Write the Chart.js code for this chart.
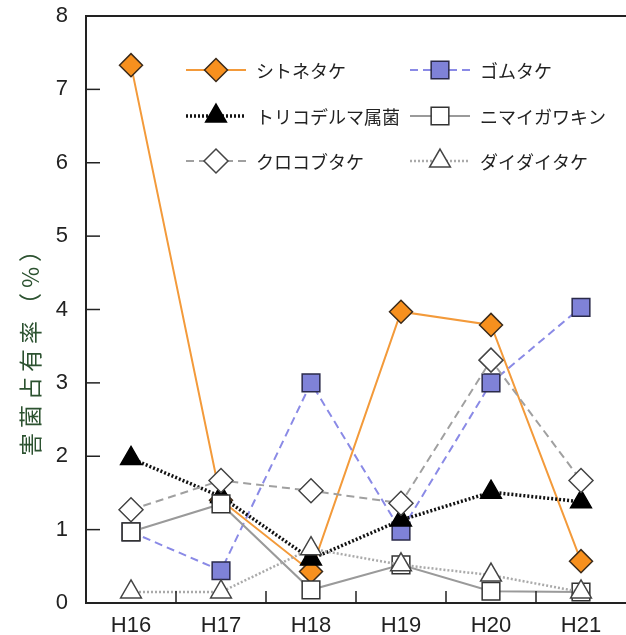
<!DOCTYPE html>
<html>
<head>
<meta charset="utf-8">
<script src="https://cdn.jsdelivr.net/npm/chart.js@4"></script>
<style>
  html, body { margin: 0; padding: 0; background: #fff; overflow: hidden; }
  #wrap { width: 640px; height: 635px; }
</style>
</head>
<body>
<div id="wrap"><canvas id="c" width="640" height="635"></canvas></div>
<script>
// categories (fiscal years)
const years = ["H16", "H17", "H18", "H19", "H20", "H21"];

// series values (%)
const shitonetake = [7.33, 1.4, 0.43, 3.97, 3.79, 0.57];
const gomutake = [0.97, 0.44, 3.0, 0.98, 3.0, 4.03];
const trichoderma = [1.97, 1.45, 0.6, 1.13, 1.51, 1.38];
const nimaigawakin = [0.97, 1.35, 0.18, 0.52, 0.16, 0.15];
const kurokobutake = [1.27, 1.67, 1.53, 1.36, 3.31, 1.67];
const daidaitake = [0.15, 0.15, 0.74, 0.52, 0.38, 0.15];

const yTicks = [0, 1, 2, 3, 4, 5, 6, 7, 8];
const yTitle = "害菌占有率（%）";

const jp = '"Noto Sans CJK JP", "Noto Sans", sans-serif';

const datasets = [
    { label: "シトネタケ", data: shitonetake, borderColor: "#f39a3a", borderWidth: 2, borderDash: [],
      pointStyle: "rectRot", pointRadius: 11.5, pointBackgroundColor: "#f7901e", pointBorderColor: "#3a2a1a", order: 5 },
    { label: "ゴムタケ", data: gomutake, borderColor: "#8a8ae6", borderWidth: 2, borderDash: [8, 5],
      pointStyle: "rect", pointRadius: 12.5, pointBackgroundColor: "#7f82d8", pointBorderColor: "#2a2a4a", order: 4 },
    { label: "トリコデルマ属菌", data: trichoderma, borderColor: "#111", borderWidth: 3.5, borderDash: [2, 2],
      pointStyle: "triangle", pointRadius: 12, pointBackgroundColor: "#000", pointBorderColor: "#000", order: 3 },
    { label: "ニマイガワキン", data: nimaigawakin, borderColor: "#9a9a9a", borderWidth: 2, borderDash: [],
      pointStyle: "rect", pointRadius: 12.5, pointBackgroundColor: "#fff", pointBorderColor: "#333", order: 1 },
    { label: "クロコブタケ", data: kurokobutake, borderColor: "#a0a0a0", borderWidth: 2, borderDash: [8, 5],
      pointStyle: "rectRot", pointRadius: 12, pointBackgroundColor: "#fff", pointBorderColor: "#444", order: 2 },
    { label: "ダイダイタケ", data: daidaitake, borderColor: "#aaaaaa", borderWidth: 2.5, borderDash: [2, 2],
      pointStyle: "triangle", pointRadius: 12, pointBackgroundColor: "#fff", pointBorderColor: "#444", order: 0 }
];
datasets.forEach(d => {
    d.pointBorderWidth = 1.5;
    d.fill = false;
    d.tension = 0;
    d.pointHoverRadius = d.pointRadius;
});

// legend in two columns inside the plot, plus inward ticks, top frame, rotated title
const decorPlugin = {
    id: "decor",
    afterDraw(chart) {
        const ctx = chart.ctx;
        const area = chart.chartArea;
        const x = chart.scales.x;
        const y = chart.scales.y;
        ctx.save();

        // top frame line
        ctx.strokeStyle = "#222";
        ctx.lineWidth = 2;
        ctx.beginPath();
        ctx.moveTo(area.left - 1, area.top);
        ctx.lineTo(area.right + 20, area.top);
        ctx.stroke();

        // y ticks pointing inward
        ctx.lineWidth = 1.5;
        yTicks.slice(1, -1).forEach(v => {
            const py = y.getPixelForValue(v);
            ctx.beginPath();
            ctx.moveTo(area.left, py);
            ctx.lineTo(area.left + 14, py);
            ctx.stroke();
        });
        // x ticks between categories, pointing inward
        for (let i = 0; i < years.length - 1; i++) {
            const px = (x.getPixelForValue(i) + x.getPixelForValue(i + 1)) / 2;
            ctx.beginPath();
            ctx.moveTo(px, area.bottom);
            ctx.lineTo(px, area.bottom - 12);
            ctx.stroke();
        }

        // y title
        ctx.fillStyle = "#2c5230";
        ctx.font = "23px " + jp;
        ctx.letterSpacing = "5px";
        ctx.textAlign = "center";
        ctx.textBaseline = "middle";
        ctx.translate(30, 345);
        ctx.rotate(-Math.PI / 2);
        ctx.fillText(yTitle, 0, 0);
        ctx.restore();

        // legend
        ctx.save();
        const cols = [area.left + 100, area.left + 324];
        const rows = [area.top + 54, area.top + 100, area.top + 145];
        datasets.forEach((d, i) => {
            const cx = cols[i % 2];
            const cy = rows[Math.floor(i / 2)];
            ctx.strokeStyle = d.borderColor;
            ctx.lineWidth = d.borderWidth;
            ctx.setLineDash(d.borderDash);
            ctx.beginPath();
            ctx.moveTo(cx, cy);
            ctx.lineTo(cx + 60, cy);
            ctx.stroke();
            ctx.setLineDash([]);
            ctx.fillStyle = d.pointBackgroundColor;
            ctx.strokeStyle = d.pointBorderColor;
            ctx.lineWidth = d.pointBorderWidth;
            Chart.helpers.drawPoint(ctx, { pointStyle: d.pointStyle, radius: d.pointRadius, rotation: 0, borderWidth: d.pointBorderWidth }, cx + 30, cy);
            ctx.fillStyle = "#222";
            ctx.font = "18px " + jp;
            ctx.textAlign = "left";
            ctx.textBaseline = "middle";
            ctx.fillText(d.label, cx + 70, cy + 1);
        });
        ctx.restore();
    }
};

new Chart(document.getElementById("c"), {
    type: "line",
    data: { labels: years, datasets },
    plugins: [decorPlugin],
    options: {
        responsive: false,
        animation: false,
        layout: { padding: { top: 16, right: 11, left: 0, bottom: 0 } },
        plugins: { legend: { display: false }, tooltip: { enabled: false } },
        scales: {
            x: {
                offset: true,
                grid: { display: false },
                border: { display: true, color: "#222", width: 2 },
                ticks: {
                    color: "#222", padding: 2,
                    font: { family: '"Liberation Sans Narrow", "Liberation Sans", sans-serif', size: 22 }
                },
                afterFit(s) { s.height = 32; s.paddingLeft = 0; s.paddingRight = 0; }
            },
            y: {
                min: 0, max: 8,
                afterBuildTicks(s) { s.ticks = yTicks.map(v => ({ value: v })); },
                grid: { display: false },
                border: { display: true, color: "#222", width: 2 },
                ticks: {
                    color: "#222", padding: 10,
                    font: { family: '"Liberation Sans", Arial, sans-serif', size: 22 }
                },
                afterFit(s) { s.width = 86; s.paddingTop = 0; s.paddingBottom = 0; }
            }
        }
    }
});
</script>
</body>
</html>
